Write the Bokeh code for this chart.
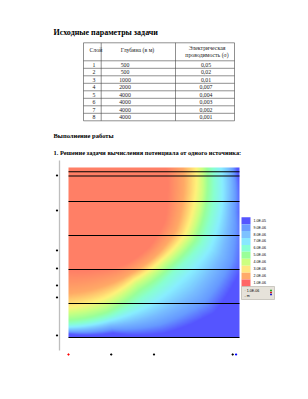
import numpy as np
from bokeh.plotting import figure
from bokeh.models import Range1d, LinearColorMapper, ColumnDataSource
from bokeh.core.properties import value
from bokeh.embed import file_html
from bokeh.resources import INLINE

# ---------------- data ----------------
page_title = "Исходные параметры задачи"
section_title = "Выполнение работы"
task_title = "1. Решение задачи вычисления потенциала от одного источника:"

table_headers = ["Слой", "Глубина (в м)", "Электрическая", "проводимость (σ)"]
layer_ids = ["1", "2", "3", "4", "5", "6", "7", "8"]
layer_depths = ["500", "500", "1000", "2000", "4000", "4000", "4000", "4000"]
layer_sigma = ["0,05", "0,02", "0,01", "0,007", "0,004", "0,003", "0,002", "0,001"]

# chart domain (m) and layer boundaries drawn on the chart
x_max = 20000
z_max = 20000
boundary_depths = [500, 1000, 4000, 8000, 12000, 16000, 20000]

# colour levels of the potential field and where each level's contour lies:
# distance (m) from the source at the given angles below the surface (deg)
level_colors = ["#FF7F66", "#FFAA66", "#FFF27A", "#CCFF80", "#99FF99",
                "#88FFD0", "#88EEFF", "#77BBFF", "#6699FF", "#5555FF"]
contour_angles = [0, 15, 30, 45, 60, 75, 90]
contour_r = [
    [11380, 11960, 12900, 13250, 13140, 12430, 12080],
    [13370, 13840, 14550, 14550, 14430, 14550, 14780],
    [14900, 15250, 15720, 15370, 15250, 15950, 16420],
    [15600, 16070, 16420, 15950, 15840, 16770, 17130],
    [16190, 16660, 17130, 16660, 16660, 17600, 17950],
    [16890, 17480, 17950, 17360, 17600, 18180, 18420],
    [17830, 18530, 19120, 18770, 18770, 18650, 18770],
    [18770, 19470, 20640, 20880, 20180, 19240, 19120],
    [19240, 20180, 22050, 22520, 21350, 19710, 19350],
    [19710, 20880, 23460, 24160, 22520, 20180, 19590],
]

legend_colors = ["#5555FF", "#6A9BFF", "#7DC2FF", "#88E8FF", "#88FFD5",
                 "#99FF99", "#CCFF80", "#FFE680", "#FFAA6A", "#FF6666"]
legend_labels = ["1.0E-05", "9.0E-06", "8.0E-06", "7.0E-06", "6.0E-06",
                 "5.0E-06", "4.0E-06", "3.0E-06", "2.0E-06", "1.0E-06"]

left_marks_depth = [940, 5060, 9760, 11880, 13880, 15290, 19760]
bottom_marks_x = [0, 5000, 10000, 19200, 19600]
bottom_marks_color = ["red", "black", "black", "black", "blue"]

# ---------------- layout constants (px) ----------------
W, H = 308, 399
CH_L, CH_R, CH_T, CH_B = 68, 239, 167, 337
SERIF = value("Liberation Serif")

p = figure(width=W, height=H, x_range=Range1d(0, W), y_range=Range1d(H, 0),
           x_axis_type=None, y_axis_type=None, min_border=0,
           toolbar_location=None, output_backend="svg")
p.grid.visible = False
p.outline_line_color = None
p.background_fill_color = "white"
p.border_fill_color = "white"

# data ranges mapped onto the chart box
sx = (CH_R - CH_L) / x_max
sz = (CH_B - CH_T) / z_max
p.extra_x_ranges = {"cx": Range1d(-CH_L / sx, (W - CH_L) / sx)}
p.extra_y_ranges = {"cz": Range1d((H - CH_T) / sz, -CH_T / sz)}

# ---------------- headings ----------------
p.text(x=[53], y=[32], text=[page_title], text_font=SERIF,
       text_font_size=value("8px"), text_font_style="bold",
       text_baseline="middle", text_color="black")
p.text(x=[53], y=[135], text=[section_title], text_font=SERIF,
       text_font_size=value("6.5px"), text_font_style="bold",
       text_baseline="middle", text_color="black")
p.text(x=[53], y=[152], text=[task_title], text_font=SERIF,
       text_font_size=value("6.4px"), text_font_style="bold",
       text_baseline="middle", text_color="black")

# ---------------- table ----------------
col_edges = [83, 100.7, 175, 234]
t_top, head_bot, row_h = 42.3, 60.3, 7.5
n_rows = len(layer_ids)
row_edges = [t_top, head_bot] + [head_bot + row_h * (i + 1) for i in range(n_rows)]
t_bot = row_edges[-1]
p.segment(x0=[col_edges[0]] * len(row_edges), x1=[col_edges[-1]] * len(row_edges),
          y0=row_edges, y1=row_edges, line_color="#444444", line_width=0.6)
p.segment(x0=col_edges, x1=col_edges, y0=[t_top] * len(col_edges),
          y1=[t_bot] * len(col_edges), line_color="#444444", line_width=0.6)

hx = [89, 137, 206.5, 206.5]
hy = [49.5, 49.5, 47.5, 54.5]
ha = ["left", "center", "center", "center"]
p.text(x=hx, y=hy, text=table_headers, text_align=ha, text_font=SERIF,
       text_font_size=value("5.8px"), text_baseline="middle", text_color="#222222")

row_y = [head_bot + row_h * (i + 0.5) for i in range(n_rows)]
cells = ColumnDataSource(dict(
    x=[92] * n_rows + [124.5] * n_rows + [205.5] * n_rows,
    y=row_y * 3,
    t=layer_ids + layer_depths + layer_sigma,
    a=["left"] * n_rows + ["center"] * (2 * n_rows)))
p.text(x="x", y="y", text="t", text_align="a", source=cells, text_font=SERIF,
       text_font_size=value("5.8px"), text_baseline="middle", text_color="#222222")

# ---------------- potential field ----------------
nx, nz = CH_R - CH_L, CH_B - CH_T
xs = (np.arange(nx) + 0.5) * x_max / nx
zs = (np.arange(nz) + 0.5) * z_max / nz
X, Z = np.meshgrid(xs, zs)
R = np.hypot(X, Z)
TH = np.degrees(np.arctan2(Z, X))
Rk = [np.interp(TH, contour_angles, rr) for rr in contour_r]
nl = len(level_colors)
t = np.zeros_like(X)
for k in range(nl - 1):
    m = (R > Rk[k]) & (R <= Rk[k + 1])
    t[m] = k + (R[m] - Rk[k][m]) / (Rk[k + 1][m] - Rk[k][m])
t[R > Rk[-1]] = nl - 1


def hex2rgb(h):
    return np.array([int(h[i:i + 2], 16) for i in (1, 3, 5)], dtype=float)


stops = np.array([hex2rgb(c) for c in level_colors])
palette = []
for s in np.linspace(0, nl - 1, 256):
    i = min(int(s), nl - 2)
    f = s - i
    c = stops[i] * (1 - f) + stops[i + 1] * f
    palette.append("#%02X%02X%02X" % tuple(int(round(v)) for v in c))
mapper = LinearColorMapper(palette=palette, low=0, high=nl - 1)

p.image(image=[t], x=0, y=0, dw=x_max, dh=z_max, color_mapper=mapper,
        x_range_name="cx", y_range_name="cz")

nb = len(boundary_depths)
p.segment(x0=[0] * nb, x1=[x_max] * nb, y0=boundary_depths, y1=boundary_depths,
          line_color="black", line_width=1.1, x_range_name="cx", y_range_name="cz")

# left axis line and label fragments
p.segment(x0=[59], x1=[59], y0=[160], y1=[350], line_color="#BEBEBE", line_width=1.3)
p.scatter(x=[56.5] * len(left_marks_depth), y=left_marks_depth, marker="square",
          size=1.1, color="black", y_range_name="cz")
p.scatter(x=bottom_marks_x, y=[354] * len(bottom_marks_x), marker="square",
          size=1.1, color=bottom_marks_color, x_range_name="cx")

# ---------------- legend ----------------
lg_x, lg_y, lg_w, lg_h = 241, 216.7, 9, 6.93
nlg = len(legend_colors)
lys = [lg_y + lg_h * (i + 0.5) for i in range(nlg)]
p.rect(x=[lg_x + lg_w / 2] * nlg, y=lys, width=lg_w, height=lg_h,
       fill_color=legend_colors, line_color=None)
p.text(x=[lg_x + lg_w + 3] * nlg, y=lys, text=legend_labels, text_font=value("Liberation Sans"),
       text_font_size=value("3.6px"), text_baseline="middle", text_color="black")
box_top = lg_y + lg_h * nlg
p.rect(x=[257.5], y=[box_top + 6.5], width=33, height=13, fill_color="#E6E2DA",
       line_color="#B0ACA4", line_width=0.6)
p.text(x=[244], y=[box_top + 4], text=["· 1.0E-06"], text_font=value("Liberation Sans"),
       text_font_size=value("3.6px"), text_baseline="middle", text_color="black")
p.text(x=[244], y=[box_top + 9.5], text=["-  m"], text_font=value("Liberation Sans"),
       text_font_size=value("3.6px"), text_baseline="middle", text_color="black")
p.rect(x=[270.5, 270.5, 270.5], y=[box_top + 4, box_top + 6, box_top + 8], width=2, height=1.6,
       fill_color=["#22AA22", "#CC2222", "#2222CC"], line_color=None)

open("out.html", "w").write(file_html(p, INLINE))
